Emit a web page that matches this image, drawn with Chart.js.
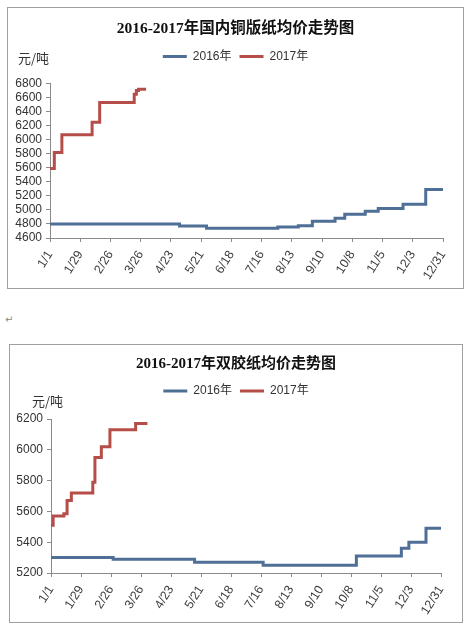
<!DOCTYPE html>
<html>
<head>
<meta charset="utf-8">
<script src="https://cdn.jsdelivr.net/npm/chart.js@4"></script>
<style>
  body { margin: 0; background: #fff; width: 466px; height: 631px; position: relative; overflow: hidden; }
  .frame { position: absolute; border: 1px solid #a0a0a0; }
  .unit { position: absolute; font: 13px 'Noto Sans CJK SC', sans-serif; color: #333; }
  .ret { position: absolute; left: 5px; top: 314px; font: 10px 'DejaVu Sans', sans-serif; color: #888; }
</style>
</head>
<body>
<div class="frame" style="left:7px; top:7px;">
  <canvas id="coatedChart" width="455" height="280"></canvas>
</div>
<div class="unit" style="left:18px; top:48px;">元/吨</div>

<div class="ret">↵</div>

<div class="frame" style="left:9px; top:344px;">
  <canvas id="offsetChart" width="452" height="277"></canvas>
</div>
<div class="unit" style="left:32px; top:391px;">元/吨</div>

<script>
// x tick labels, one every 28 days
const tickLabels = ['1/1', '1/29', '2/26', '3/26', '4/23', '5/21', '6/18', '7/16', '8/13', '9/10', '10/8', '11/5', '12/3', '12/31'];

// 铜版纸 (coated paper) - day of year where price changes, new price
const coatedDays2016 = [0, 120, 145, 211, 230, 243, 264, 273, 292, 304, 327, 348, 364];
const coatedPrice2016 = [4800, 4770, 4740, 4755, 4775, 4840, 4880, 4940, 4980, 5020, 5080, 5290, 5290];
const coatedDays2017 = [0, 4, 11, 39, 46, 78, 80, 82, 89];
const coatedPrice2017 = [5590, 5820, 6070, 6250, 6530, 6650, 6700, 6720, 6720];

// 双胶纸 (offset paper)
const offsetDays2016 = [0, 58, 134, 198, 285, 327, 334, 350, 364];
const offsetPrice2016 = [5300, 5290, 5270, 5250, 5310, 5360, 5400, 5490, 5490];
const offsetDays2017 = [0, 2, 12, 15, 19, 39, 41, 47, 55, 79, 90];
const offsetPrice2017 = [5510, 5570, 5585, 5670, 5720, 5790, 5950, 6020, 6130, 6170, 6170];

const blue = '#4f6f96';
const red = '#b54d49';

Chart.defaults.font.family = "'Liberation Sans', 'Noto Sans CJK SC', sans-serif";
Chart.defaults.color = '#333';

// Adds some empty space under the legend so the plot starts lower
const legendGap = {
    id: 'legendGap',
    beforeLayout(chart, args, opts) {
        if (chart.legend && !chart.legend._gapPatched) {
            const fit = chart.legend.fit;
            chart.legend.fit = function () {
                fit.call(this);
                this.height += opts.extra || 0;
            };
            chart.legend._gapPatched = true;
        }
    }
};

function toPoints(days, prices) {
    return days.map((d, i) => ({ x: d, y: prices[i] }));
}

// Both charts share the same look, only the data and a few sizes differ
function drawPriceChart(canvasId, title, days16, price16, days17, price17, yMin, yMax, sizes) {
    const ctx = document.getElementById(canvasId).getContext('2d');
    return new Chart(ctx, {
        type: 'line',
        data: {
            datasets: [{
                label: '2016年',
                data: toPoints(days16, price16),
                borderColor: blue,
                backgroundColor: blue,
                borderWidth: 3,
                stepped: true,
                pointRadius: 0,
                fill: false
            }, {
                label: '2017年',
                data: toPoints(days17, price17),
                borderColor: red,
                backgroundColor: red,
                borderWidth: 3,
                stepped: true,
                pointRadius: 0,
                fill: false
            }]
        },
        plugins: [legendGap],
        options: {
            responsive: false,
            animation: false,
            layout: { padding: 0 },
            scales: {
                x: {
                    type: 'linear',
                    min: 0,
                    max: 364,
                    afterFit: scale => { scale.height = sizes.xHeight; },
                    afterBuildTicks: scale => {
                        scale.ticks = tickLabels.map((t, i) => ({ value: i * 28 }));
                    },
                    ticks: {
                        autoSkip: false,
                        minRotation: 58,
                        maxRotation: 58,
                        padding: 6,
                        color: '#404040',
                        font: { size: 12.5 },
                        callback: value => tickLabels[Math.round(value / 28)]
                    },
                    grid: { drawOnChartArea: false, tickLength: 4, color: '#8a8a8a' },
                    border: { color: '#8a8a8a' }
                },
                y: {
                    min: yMin,
                    max: yMax,
                    afterFit: scale => { scale.width = sizes.yWidth; },
                    ticks: {
                        stepSize: 200,
                        autoSkip: false,
                        padding: 4,
                        color: '#333',
                        font: { size: 12 },
                        callback: value => String(value)
                    },
                    grid: { drawOnChartArea: false, tickLength: 4, color: '#8a8a8a' },
                    border: { color: '#8a8a8a' }
                },
                // empty axis on the right, only keeps a margin there
                spacer: {
                    position: 'right',
                    display: true,
                    afterFit: scale => { scale.width = sizes.right; },
                    ticks: { display: false },
                    grid: { display: false },
                    border: { display: false }
                }
            },
            plugins: {
                title: {
                    display: true,
                    text: title,
                    color: '#111',
                    font: { family: "'Liberation Serif', 'Noto Sans CJK SC', serif", size: sizes.titleSize, weight: 'bold' },
                    padding: { top: sizes.titleTop, bottom: 4 }
                },
                legend: {
                    display: true,
                    labels: {
                        usePointStyle: true,
                        pointStyle: 'line',
                        pointStyleWidth: 24,
                        boxHeight: 12,
                        padding: 8,
                        color: '#333',
                        font: { size: 12 }
                    }
                },
                legendGap: { extra: sizes.legendGap },
                tooltip: { enabled: false }
            }
        }
    });
}

drawPriceChart('coatedChart', '2016-2017年国内铜版纸均价走势图',
    coatedDays2016, coatedPrice2016, coatedDays2017, coatedPrice2017, 4600, 6800,
    { right: 20, xHeight: 50, yWidth: 42, titleSize: 15.5, titleTop: 12, legendGap: 11 });

drawPriceChart('offsetChart', '2016-2017年双胶纸均价走势图',
    offsetDays2016, offsetPrice2016, offsetDays2017, offsetPrice2017, 5200, 6200,
    { right: 21, xHeight: 49, yWidth: 41, titleSize: 15, titleTop: 10, legendGap: 12 });
</script>
</body>
</html>
